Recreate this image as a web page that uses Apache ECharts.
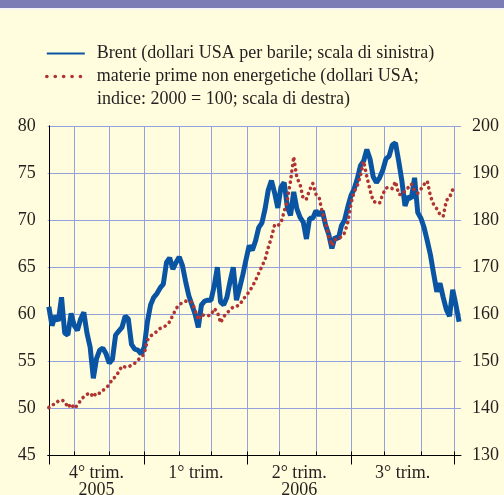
<!DOCTYPE html>
<html>
<head>
<meta charset="utf-8">
<script src="https://cdn.jsdelivr.net/npm/echarts@6/dist/echarts.min.js"></script>
<style>
    html, body { margin: 0; padding: 0; background: #fffddd; }
    #chart { width: 504px; height: 495px; }
</style>
</head>
<body>
<div id="chart"></div>
<script>
// Values every 2 trading days, starting 10 Oct 2005 (x = business-day index)
const brent = [
    60.8, 58.8, 59.8, 59.3, 61.8, 58.0, 57.8, 60.1, 58.8, 58.3,
    59.5, 60.2, 58.0, 56.5, 53.2, 55.3, 56.2, 56.4, 55.8, 54.8,
    55.2, 57.8, 58.2, 58.6, 59.8, 59.5, 56.8, 56.3, 56.2, 55.8,
    56.5, 59.2, 61.0, 61.8, 62.2, 62.8, 63.2, 65.5, 66.0, 64.8,
    65.5, 66.1, 65.2, 63.5, 62.0, 61.0, 60.0, 58.6, 61.0, 61.4,
    61.5, 61.5, 63.0, 65.0, 61.3, 61.0, 61.8, 63.5, 65.0, 61.5,
    62.8, 64.2, 65.8, 67.3, 66.8, 67.8, 69.2, 69.7, 71.2, 73.2,
    74.2, 72.9, 71.3, 73.5, 74.0, 71.4, 70.5, 73.0, 71.2, 70.3,
    69.8, 68.0, 70.2, 70.2, 71.0, 70.5, 71.0, 69.5, 68.5, 67.0,
    68.2, 68.0, 69.4, 70.0, 71.4, 72.6, 73.3, 74.4, 75.8, 76.3,
    77.5, 76.5, 74.6, 74.0, 74.5, 75.3, 76.5, 76.8, 78.0, 78.2,
    76.3, 74.2, 71.5, 72.5, 72.3, 74.5, 70.8, 70.2, 69.2, 67.8,
    66.3, 64.3, 62.4, 63.3, 61.8, 60.5, 59.8, 62.6, 61.0, 59.2
];

const nonEnergy = [
    140.2, 140.8, 140.9, 141.6, 141.8, 141.5, 140.2, 141.0, 140.0, 140.7,
    141.7, 142.5, 143.0, 143.3, 142.4, 143.4, 143.2, 143.8, 144.4, 145.0,
    146.3, 146.7, 147.8, 149.0, 148.8, 148.8, 149.2, 149.6, 150.3, 150.8,
    151.6, 154.5, 155.4, 155.8, 156.4, 157.0, 157.2, 157.7, 158.4, 159.8,
    161.2, 162.0, 162.5, 162.8, 162.6, 162.6, 160.8, 158.8, 160.0, 159.7,
    159.7, 159.8, 161.2, 160.5, 158.2, 159.5, 160.3, 160.9, 161.6, 161.7,
    162.0, 163.1, 163.9, 164.8, 165.9, 167.2, 168.7, 170.2, 171.6, 174.2,
    176.3, 179.0, 178.8, 179.5, 181.8, 184.2, 188.3, 193.5, 189.0, 187.6,
    184.5, 184.5, 186.4, 187.8, 185.5, 184.8, 181.6, 179.6, 176.5, 174.6,
    175.9, 176.0, 176.5, 177.3, 179.5, 183.5, 186.0, 187.3, 189.5, 192.5,
    189.2, 186.4, 184.0, 183.7, 183.6, 185.5, 186.8, 187.0, 186.7, 188.2,
    185.5, 185.4, 186.2, 186.9, 187.7, 186.3, 185.7, 186.6, 187.6, 188.3,
    185.1, 183.3, 182.4, 181.2, 180.8, 184.2, 184.8, 186.5
];

// First trading day of each month / quarter (business-day index)
const monthStarts = [16, 38, 60, 82, 102, 125, 145, 168, 190, 211, 234, 255];
const quarterStarts = [0, 60, 125, 190, 255];
const quarterLabels = ['4° trim.\n2005', '1° trim.', '2° trim.\n2006', '3° trim.'];

const legendNames = {
    'Brent': 'Brent (dollari USA per barile; scala di sinistra)',
    'materie prime': 'materie prime non energetiche (dollari USA;'
};

const quarterMids = quarterLabels.map((_, i) => (quarterStarts[i] + quarterStarts[i + 1]) / 2);

const font = 'Liberation Serif';
const textColor = '#231f20';
const gridColor = '#93a2dc';
const blue = '#0a55a3';
const red = '#b03434';

const chart = echarts.init(document.getElementById('chart'));

const option = {
    backgroundColor: '#fffddd',
    animation: false,
    graphic: [
        { type: 'rect', left: 0, top: 0, shape: { width: 504, height: 8 }, style: { fill: '#7b7bb5' } },
        { type: 'rect', left: 0, top: 8, shape: { width: 504, height: 2 }, style: { fill: '#f4f4f4' } },
        {
            type: 'text', left: 97, top: 90,
            style: { text: 'indice: 2000 = 100; scala di destra)', font: '18px "Liberation Serif"', fill: textColor }
        }
    ],
    legend: {
        left: 45,
        top: 42,
        padding: 0,
        orient: 'vertical',
        itemGap: 0,
        itemWidth: 38,
        itemHeight: 14,
        itemStyle: { opacity: 0 },
        data: [
            { name: 'Brent' },
            { name: 'materie prime', lineStyle: { type: [0.1, 8.3], width: 3.6, cap: 'round' } }
        ],
        formatter: (name) => legendNames[name],
        textStyle: {
            fontFamily: font,
            fontSize: 18,
            color: textColor,
            lineHeight: 23,
            padding: [0, 0, 0, 7]
        }
    },
    grid: {
        left: 47.7,
        right: 43,
        top: 126,
        bottom: 39.5,
        outerBoundsMode: 'none'
    },
    xAxis: [
        {
            type: 'value',
            position: 'bottom',
            min: -0.7,
            max: 259.2,
            axisLine: { show: true, lineStyle: { color: '#000', width: 1 } },
            axisTick: {
                show: true,
                inside: true,
                length: 4,
                customValues: monthStarts,
                lineStyle: { color: '#000' }
            },
            axisLabel: {
                customValues: quarterMids,
                formatter: (value) => quarterLabels[quarterMids.indexOf(value)] || '',
                fontFamily: font,
                fontSize: 18,
                lineHeight: 17,
                color: textColor,
                margin: 9
            },
            splitLine: { show: true, lineStyle: { color: gridColor, width: 1 } }
        },
        {
            type: 'value',
            position: 'bottom',
            min: -0.7,
            max: 259.2,
            axisLine: { show: false },
            axisTick: {
                show: true,
                inside: false,
                length: 9,
                customValues: quarterStarts,
                lineStyle: { color: '#000' }
            },
            axisLabel: { show: false },
            splitLine: { show: false }
        }
    ],
    yAxis: [
        {
            type: 'value',
            position: 'left',
            min: 45,
            max: 80,
            interval: 5,
            axisLine: { show: true, lineStyle: { color: '#000', width: 1 } },
            axisTick: { show: false },
            axisLabel: { fontFamily: font, fontSize: 18, color: textColor, margin: 12 },
            splitLine: { show: true, lineStyle: { color: gridColor, width: 1 } }
        },
        {
            type: 'value',
            position: 'right',
            offset: 2,
            min: 130,
            max: 200,
            interval: 10,
            axisLine: { show: true, lineStyle: { color: '#000', width: 1 } },
            axisTick: { show: false },
            axisLabel: { fontFamily: font, fontSize: 18, color: textColor, margin: 9 },
            splitLine: { show: false }
        }
    ],
    series: [
        {
            name: 'Brent',
            type: 'line',
            xAxisIndex: 0,
            yAxisIndex: 0,
            showSymbol: false,
            symbol: 'none',
            lineStyle: { color: blue, width: 5 },
            itemStyle: { color: blue },
            data: brent.map((v, i) => [i * 2, v])
        },
        {
            name: 'materie prime',
            type: 'line',
            xAxisIndex: 0,
            yAxisIndex: 1,
            showSymbol: false,
            symbol: 'none',
            z: 3,
            lineStyle: { color: red, width: 3.6, type: [0.1, 5.5], cap: 'round' },
            itemStyle: { color: red },
            data: nonEnergy.map((v, i) => [i * 2, v])
        }
    ]
};

chart.setOption(option);
</script>
</body>
</html>
